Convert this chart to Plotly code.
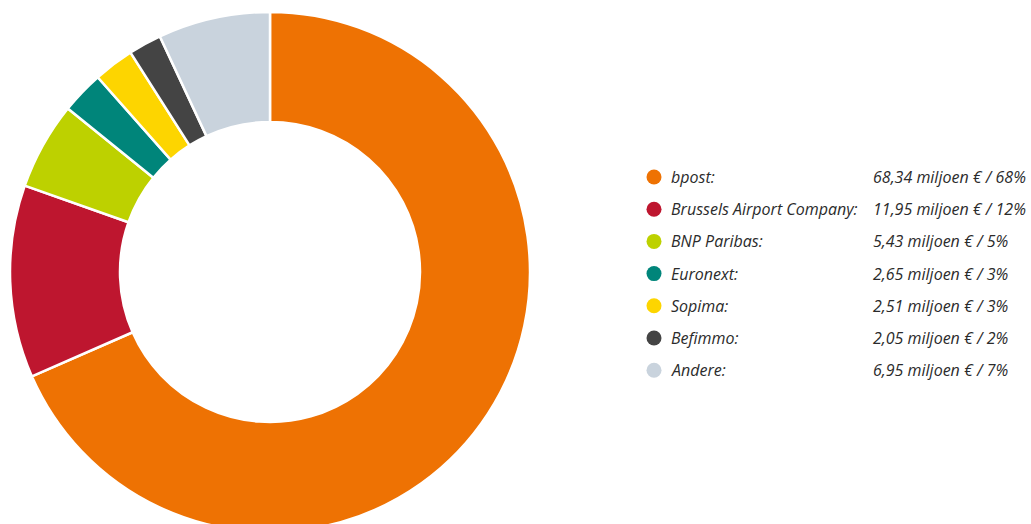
import plotly.graph_objects as go

names = ["bpost", "Brussels Airport Company", "BNP Paribas", "Euronext", "Sopima", "Befimmo", "Andere"]
values = [68.34, 11.95, 5.43, 2.65, 2.51, 2.05, 6.95]
percents = [68, 12, 5, 3, 3, 2, 7]
colors = ["#EE7203", "#BE162F", "#BDD100", "#00857A", "#FDD500", "#444444", "#C9D3DD"]

W, H = 1031, 544
font_family = "Open Sans"
text_color = "#2b2b2b"

fig = go.Figure()

# donut: center (270, 272), outer radius 260 px
cx, cy, r = 270, 272, 260
fig.add_trace(go.Pie(
    labels=names, values=values, sort=False, direction="clockwise", rotation=0,
    hole=150 / 260, textinfo="none", hoverinfo="label+value+percent",
    marker=dict(colors=colors, line=dict(color="white", width=2.5)),
    domain=dict(x=[(cx - r) / W, (cx + r) / W], y=[(H - (cy + r)) / H, (H - (cy - r)) / H]),
    showlegend=False,
))

# legend rows
row_y0, row_dy = 177, 32.2
ys = [row_y0 + i * row_dy for i in range(len(names))]
fig.add_trace(go.Scatter(
    x=[654] * len(names), y=ys, mode="markers",
    marker=dict(size=15, color=colors), hoverinfo="skip", showlegend=False,
    xaxis="x", yaxis="y",
))

def fmt(v):
    return f"{v:.2f}".replace(".", ",")

for n, v, p, y in zip(names, values, percents, ys):
    fig.add_annotation(x=669, y=y, xref="x", yref="y", text=f"<i>{n}:</i>",
                       showarrow=False, xanchor="left", yanchor="middle",
                       font=dict(family=font_family, size=16, color=text_color))
    fig.add_annotation(x=871, y=y, xref="x", yref="y", text=f"<i>{fmt(v)} miljoen € / {p}%</i>",
                       showarrow=False, xanchor="left", yanchor="middle",
                       font=dict(family=font_family, size=16, color=text_color))

fig.update_layout(
    width=W, height=H, margin=dict(l=0, r=0, t=0, b=0),
    paper_bgcolor="white", plot_bgcolor="rgba(0,0,0,0)",
    xaxis=dict(range=[0, W], visible=False, fixedrange=True),
    yaxis=dict(range=[H, 0], visible=False, fixedrange=True),
)

fig.write_html("out.html", config={"displayModeBar": False},
               post_script="document.body.style.margin='0';document.body.style.overflow='hidden';")
